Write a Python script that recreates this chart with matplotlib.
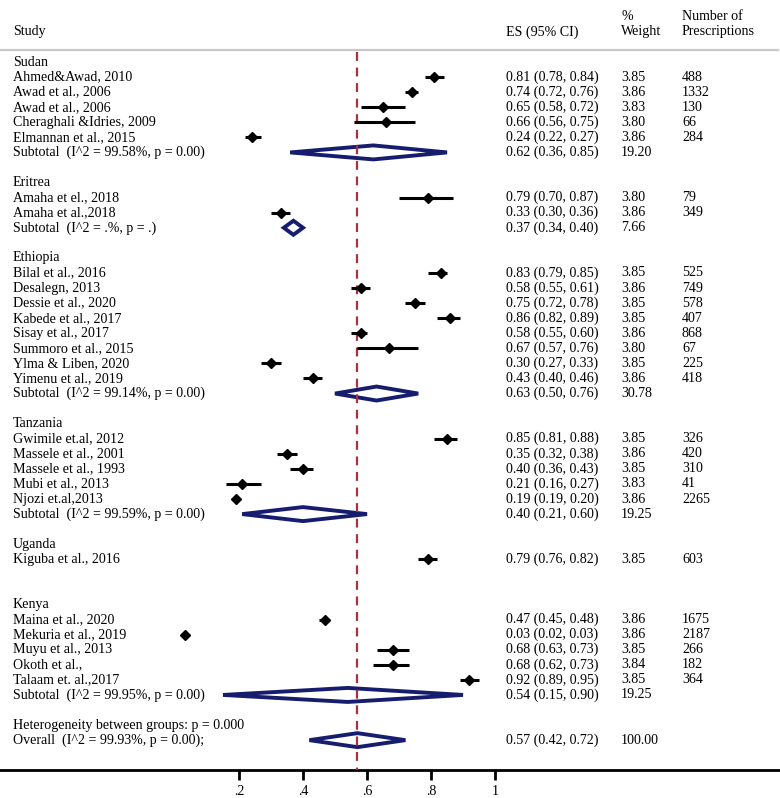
import matplotlib
matplotlib.use("Agg")
import matplotlib.pyplot as plt
from matplotlib.patches import Polygon

plt.rcParams['font.family'] = ['Liberation Serif', 'DejaVu Serif']

# ---------------- data ----------------
groups = ["Sudan", "Eritrea", "Ethiopia", "Tanzania", "Uganda", "Kenya"]

study_names = [
    ["Ahmed&Awad, 2010", "Awad et al., 2006", "Awad et al., 2006",
     "Cheraghali &Idries, 2009", "Elmannan et al., 2015"],
    ["Amaha et el., 2018", "Amaha et al.,2018"],
    ["Bilal et al., 2016", "Desalegn, 2013", "Dessie et al., 2020", "Kabede et al., 2017",
     "Sisay et al., 2017", "Summoro et al., 2015", "Ylma & Liben, 2020", "Yimenu et al., 2019"],
    ["Gwimile et.al, 2012", "Massele et al., 2001", "Massele et al., 1993",
     "Mubi et al., 2013", "Njozi et.al,2013"],
    ["Kiguba et al., 2016"],
    ["Maina et al., 2020", "Mekuria et al., 2019", "Muyu et al., 2013",
     "Okoth et al.,", "Talaam et. al.,2017"],
]
study_es = [
    [0.81, 0.74, 0.65, 0.66, 0.24],
    [0.79, 0.33],
    [0.83, 0.58, 0.75, 0.86, 0.58, 0.67, 0.30, 0.43],
    [0.85, 0.35, 0.40, 0.21, 0.19],
    [0.79],
    [0.47, 0.03, 0.68, 0.68, 0.92],
]
study_lo = [
    [0.78, 0.72, 0.58, 0.56, 0.22],
    [0.70, 0.30],
    [0.79, 0.55, 0.72, 0.82, 0.55, 0.57, 0.27, 0.40],
    [0.81, 0.32, 0.36, 0.16, 0.19],
    [0.76],
    [0.45, 0.02, 0.63, 0.62, 0.89],
]
study_hi = [
    [0.84, 0.76, 0.72, 0.75, 0.27],
    [0.87, 0.36],
    [0.85, 0.61, 0.78, 0.89, 0.60, 0.76, 0.33, 0.46],
    [0.88, 0.38, 0.43, 0.27, 0.20],
    [0.82],
    [0.48, 0.03, 0.73, 0.73, 0.95],
]
study_weight = [
    ["3.85", "3.86", "3.83", "3.80", "3.86"],
    ["3.80", "3.86"],
    ["3.85", "3.86", "3.85", "3.85", "3.86", "3.80", "3.85", "3.86"],
    ["3.85", "3.86", "3.85", "3.83", "3.86"],
    ["3.85"],
    ["3.86", "3.86", "3.85", "3.84", "3.85"],
]
study_n = [
    ["488", "1332", "130", "66", "284"],
    ["79", "349"],
    ["525", "749", "578", "407", "868", "67", "225", "418"],
    ["326", "420", "310", "41", "2265"],
    ["603"],
    ["1675", "2187", "266", "182", "364"],
]
sub_labels = ["Subtotal  (I^2 = 99.58%, p = 0.00)", "Subtotal  (I^2 = .%, p = .)",
              "Subtotal  (I^2 = 99.14%, p = 0.00)", "Subtotal  (I^2 = 99.59%, p = 0.00)",
              None, "Subtotal  (I^2 = 99.95%, p = 0.00)"]
sub_es = [0.62, 0.37, 0.63, 0.40, None, 0.54]
sub_lo = [0.36, 0.34, 0.50, 0.21, None, 0.15]
sub_hi = [0.85, 0.40, 0.76, 0.60, None, 0.90]
sub_weight = ["19.20", "7.66", "30.78", "19.25", None, "19.25"]

het_label = "Heterogeneity between groups: p = 0.000"
overall_label = "Overall  (I^2 = 99.93%, p = 0.00);"
overall_es, overall_lo, overall_hi, overall_weight = 0.57, 0.42, 0.72, "100.00"

xticks = [0.2, 0.4, 0.6, 0.8, 1.0]
xticklabels = [".2", ".4", ".6", ".8", "1"]

# ---------------- layout ----------------
W, H = 780, 798
fig = plt.figure(figsize=(W / 100, H / 100), dpi=100)
ax = fig.add_axes([0, 0, 1, 1])
x0px, scale = 175.0, 320.0
ax.set_xlim(-x0px / scale, (W - x0px) / scale)
ax.set_ylim(H, 0)

row0, dy = 62.0, 15.07
def ry(i):
    return row0 + i * dy

FS = 10.1
col_study = 13 / W
col_es = 506 / W
col_wt = 621 / W
col_n = 682 / W
tr = ax.get_yaxis_transform()  # x in axes fraction, y in data

def rowtext(y, label, es_txt=None, wt=None, n=None):
    ax.text(col_study, y, label, transform=tr, fontsize=FS, va='center', ha='left')
    if es_txt:
        ax.text(col_es, y, es_txt, transform=tr, fontsize=FS, va='center', ha='left')
    if wt:
        ax.text(col_wt, y, wt, transform=tr, fontsize=FS, va='center', ha='left')
    if n:
        ax.text(col_n, y, n, transform=tr, fontsize=FS, va='center', ha='left')

navy = '#161d6e'
def diamond(y, lo, es, hi, h=7.0):
    ax.add_patch(Polygon([(lo, y), (es, y - h), (hi, y), (es, y + h)], closed=True,
                         facecolor='white', edgecolor=navy, lw=2.8, zorder=3,
                         joinstyle='miter'))

# header
ax.text(col_study, 32, "Study", transform=tr, fontsize=FS, va='center')
ax.text(col_es, 32, "ES (95% CI)", transform=tr, fontsize=FS, va='center')
ax.text(col_wt, 16, "%", transform=tr, fontsize=FS, va='center')
ax.text(col_wt, 32, "Weight", transform=tr, fontsize=FS, va='center')
ax.text(col_n, 16, "Number of", transform=tr, fontsize=FS, va='center')
ax.text(col_n, 32, "Prescriptions", transform=tr, fontsize=FS, va='center')
ax.plot([0, 778 / W], [50, 50], transform=tr, color='#c8c8c8', lw=1.6, clip_on=False)

# overall dashed line (drawn above the diamonds as in the reference)
ax.plot([overall_es, overall_es], [52, 770], color='#a8323f', lw=1.6,
        ls=(0, (4, 3)), zorder=3.5)

i = 0
for g in range(len(groups)):
    rowtext(ry(i), groups[g])
    i += 1
    for k in range(len(study_names[g])):
        y = ry(i)
        es, lo, hi = study_es[g][k], study_lo[g][k], study_hi[g][k]
        rowtext(y, study_names[g][k], f"{es:.2f} ({lo:.2f}, {hi:.2f})",
                study_weight[g][k], study_n[g][k])
        ax.plot([lo, hi], [y, y], color='black', lw=2.2, solid_capstyle='butt', zorder=4)
        ax.plot([es], [y], marker='D', color='black', markersize=5.4, zorder=5)
        i += 1
    if sub_labels[g] is not None:
        y = ry(i)
        rowtext(y, sub_labels[g],
                f"{sub_es[g]:.2f} ({sub_lo[g]:.2f}, {sub_hi[g]:.2f})", sub_weight[g])
        diamond(y, sub_lo[g], sub_es[g], sub_hi[g])
    i += 2

rowtext(ry(i), het_label)
i += 1
y = ry(i)
rowtext(y, overall_label, f"{overall_es:.2f} ({overall_lo:.2f}, {overall_hi:.2f})",
        overall_weight)
diamond(y, overall_lo, overall_es, overall_hi)

# x axis
for s in ['top', 'left', 'right']:
    ax.spines[s].set_visible(False)
ax.spines['bottom'].set_position(('data', 770))
ax.spines['bottom'].set_linewidth(2.0)
ax.set_xticks(xticks)
ax.set_xticklabels(xticklabels, fontsize=FS)
ax.tick_params(axis='x', direction='out', length=7.5, width=2.0, pad=3.5)
ax.set_yticks([])

fig.savefig("out.png", dpi=100)
